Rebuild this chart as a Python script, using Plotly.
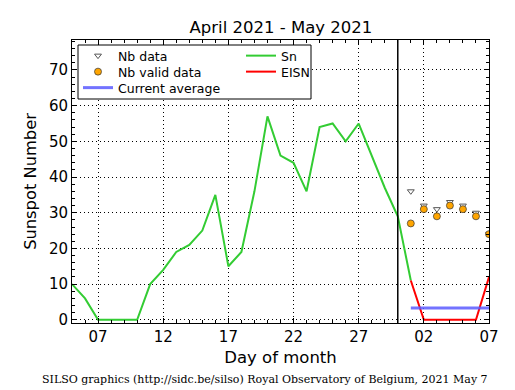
import plotly.graph_objects as go

# ---- data ----
sn_dates = ["2021-04-%02d" % d for d in range(5, 31)] + ["2021-05-01"]
sn_values = [10, 6, 0, 0, 0, 0, 10, 14, 19, 21, 25, 35, 15, 19, 36, 57, 46, 44,
             36, 54, 55, 50, 55, 46, 37, 29, 11]

may_dates = ["2021-05-%02d" % d for d in range(1, 8)]
eisn_values = [11, 0, 0, 0, 0, 0, 12]
nb_data = [36, 32, 31, 33, 32, 30, 24]
nb_valid = [27, 31, 29, 32, 31, 29, 24]

avg_dates = ["2021-05-01", "2021-05-07"]
avg_values = [3.3, 3.3]

tick_dates = ["2021-04-07", "2021-04-12", "2021-04-17", "2021-04-22",
              "2021-04-27", "2021-05-02", "2021-05-07"]
tick_labels = ["07", "12", "17", "22", "27", "02", "07"]
month_boundary = "2021-04-30"

FONT = "DejaVu Sans"

# plot area in pixels (for placing legend pieces)
L, R, T, B = 72, 489, 40, 323
W, H = R - L, B - T


def px_x(p):
    return (p - L) / W


def px_y(p):
    return (B - p) / H


fig = go.Figure()
fig.add_trace(go.Scatter(x=sn_dates, y=sn_values, mode="lines", name="Sn",
                         line=dict(color="#33cc33", width=2), legend="legend2"))
fig.add_trace(go.Scatter(x=may_dates, y=eisn_values, mode="lines", name="EISN",
                         line=dict(color="#ff0000", width=2), legend="legend4"))
fig.add_trace(go.Scatter(x=avg_dates, y=avg_values, mode="lines", name="Current average",
                         line=dict(color="rgba(90,90,255,0.85)", width=3), legend="legend5"))
fig.add_trace(go.Scatter(x=may_dates, y=nb_data, mode="markers", name="Nb data",
                         marker=dict(symbol="triangle-down", size=6, color="white",
                                     line=dict(color="#555555", width=1)), legend="legend"))
fig.add_trace(go.Scatter(x=may_dates, y=nb_valid, mode="markers", name="Nb valid data",
                         marker=dict(symbol="circle", size=7, color="#ffa500",
                                     line=dict(color="#333333", width=0.7)), legend="legend3"))

fig.add_shape(type="line", xref="x", yref="paper", x0=month_boundary, x1=month_boundary,
              y0=0, y1=1, line=dict(color="black", width=1.5))

# legend frame
fig.add_shape(type="rect", xref="paper", yref="paper", layer="above",
              x0=px_x(78), x1=px_x(311), y0=px_y(99), y1=px_y(45),
              line=dict(color="black", width=1), fillcolor="white")

fig.add_annotation(text="SILSO graphics (http://sidc.be/silso) Royal Observatory of Belgium, 2021 May 7",
                   xref="paper", yref="paper", x=0.463, y=-0.198, showarrow=False,
                   xanchor="center", yanchor="middle",
                   font=dict(family="DejaVu Serif", size=11, color="black"))


def leg(xp, yp):
    return dict(x=px_x(xp), y=px_y(yp), xanchor="left", yanchor="middle",
                bgcolor="rgba(0,0,0,0)", borderwidth=0,
                font=dict(size=12.5, family=FONT, color="black"), itemwidth=30)


fig.update_layout(
    width=515, height=390,
    margin=dict(l=L, r=515 - R, t=T, b=390 - B),
    paper_bgcolor="white", plot_bgcolor="white",
    font=dict(family=FONT, color="black"),
    title=dict(text="April 2021 - May 2021", x=0.5455, xanchor="center", y=0.93, yanchor="middle",
               font=dict(size=16.5, family=FONT, color="black")),
    showlegend=True,
    legend=leg(78, 56),
    legend2=leg(241, 56),
    legend3=leg(78, 72),
    legend4=leg(241, 72),
    legend5=leg(78, 88),
)

fig.update_xaxes(
    type="date", range=["2021-04-05", "2021-05-07"],
    tickmode="array", tickvals=tick_dates, ticktext=tick_labels,
    ticks="inside", ticklen=5, tickcolor="black",
    showline=True, linecolor="black", linewidth=1, mirror="ticks",
    showgrid=True, gridcolor="black", griddash="1px,3px", gridwidth=1,
    tickfont=dict(size=15, family=FONT),
    title=dict(text="Day of month", font=dict(size=16.5, family=FONT), standoff=6),
    minor=dict(ticks="inside", dtick=86400000, tick0="2021-04-05", ticklen=3,
               tickcolor="black", showgrid=False),
)
fig.update_yaxes(
    range=[-0.9, 78.4], tickmode="linear", tick0=0, dtick=10,
    ticks="inside", ticklen=5, tickcolor="black",
    showline=True, linecolor="black", linewidth=1, mirror="ticks",
    showgrid=True, gridcolor="black", griddash="1px,3px", gridwidth=1, zeroline=False,
    tickfont=dict(size=15, family=FONT),
    title=dict(text="Sunspot Number", font=dict(size=16.3, family=FONT), standoff=8),
    minor=dict(ticks="inside", dtick=2, ticklen=3, tickcolor="black", showgrid=False),
)

fig.write_html("out.html", post_script="document.body.style.margin='0';",
               config={"displayModeBar": False})
